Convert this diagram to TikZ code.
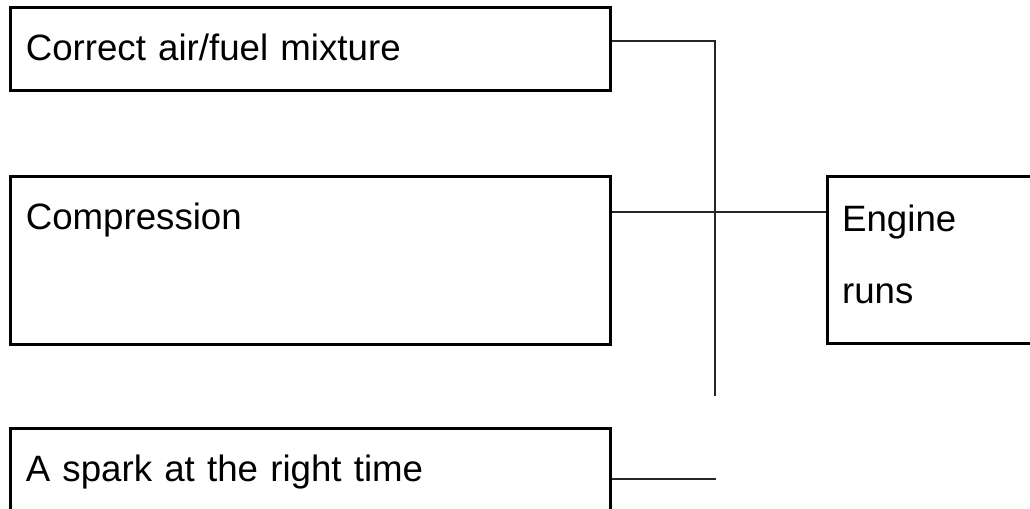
\documentclass[tikz,border=0pt]{standalone}
\usepackage{fontspec}
\setmainfont{Liberation Sans}
\usetikzlibrary{positioning,calc}
\tikzset{
  stage/.style={draw=black,line width=2.2pt,anchor=north west,
                inner xsep=11.5pt,inner ysep=0pt,text width=427pt,align=left,
                font=\fontsize{27.5}{33}\selectfont,text height=39.5pt},
  link/.style={line width=1.5pt,black!85},
}
\begin{document}
\begin{tikzpicture}[x=0.75pt,y=-0.75pt]
  \useasboundingbox (0,0) rectangle (1030,509);
  \clip (0,0) rectangle (1030,509);
  % three conditions on the left, result on the right
  \node[stage,text depth=22.75pt] (mix) at (9,6) {Correct air/fuel mixture};
  \node[stage,text depth=86.5pt] (comp) at (9,175) {Compression};
  \node[stage,text depth=40pt] (spark) at (9,427) {A spark at the right time};
  \node[stage,text width=170pt,inner xsep=11pt,text height=41.25pt,text depth=84pt,
        font=\fontsize{27.5}{54}\selectfont] (eng) at (826,175) {Engine\\runs};
  % connector bus
  \coordinate (mixturn) at (715,41);
  \coordinate (busfoot) at (715,396);
  \coordinate (hub) at (715,212);
  \coordinate (sparkend) at (716,479);
  \draw[link] (mix.east |- mixturn) -- (mixturn) -- (busfoot);
  \draw[link] (comp.east |- hub) -- (eng.west |- hub);
  \draw[link,line width=2.2pt] (spark.east |- sparkend) -- (sparkend);
\end{tikzpicture}
\end{document}
